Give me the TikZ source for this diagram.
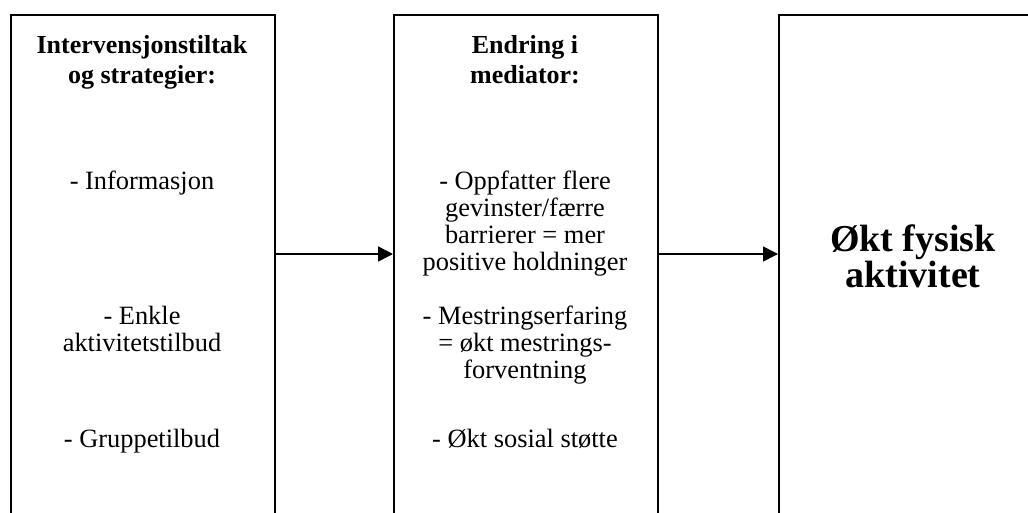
\documentclass[tikz,border=0pt]{standalone}
\usepackage{fontspec}
\setmainfont{Liberation Serif}
\usetikzlibrary{arrows.meta}
\begin{document}
\begin{tikzpicture}[x=1pt,y=-1pt,
  box/.style={draw=black,line width=1.5pt,minimum width=264pt,minimum height=560pt,inner sep=0pt,anchor=north west},
  bigbox/.style={box,line width=2.4pt,minimum width=270pt},
  head/.style={font=\fontsize{26}{30}\selectfont\bfseries,align=center,anchor=base,inner sep=0pt},
  body/.style={font=\fontsize{26.4}{27}\selectfont,align=center,anchor=base,inner sep=0pt},
  big/.style={font=\fontsize{38}{30}\selectfont\bfseries,align=center,anchor=base,inner sep=0pt},
  link/.style={line width=1.5pt,-{Triangle[length=15pt,width=15pt]}}]
\clip (0,0) rectangle (1028,512);
\fill[white] (0,0) rectangle (1028,512);
\node[box] (a) at (10,14) {};
\node[box] (b) at (393,14) {};
\node[bigbox] (c) at (778,14) {};
\node[head] (ta) at (142,83) {Intervensjonstiltak\\og strategier:};
\node[head] (tb) at (525,83) {Endring i\\mediator:};
\node[body] (a1) at (142,189) {- Informasjon};
\node[body] (a2) at (142,351) {- Enkle\\aktivitetstilbud};
\node[body] (a3) at (142,447) {- Gruppetilbud};
\node[body] (b1) at (525,270) {- Oppfatter flere\\gevinster/færre\\barrierer = mer\\positive holdninger};
\node[body] (b2) at (525,378) {- Mestringserfaring\\= økt mestrings-\\forventning};
\node[body] (b3) at (525,447) {- Økt sosial støtte};
\node[big] (tc) at (913,287) {Økt fysisk\\aktivitet};
\coordinate (y) at (0,254);
\draw[link] (a.east |- y) -- (b.west |- y);
\draw[link] (b.east |- y) -- (c.west |- y);
\end{tikzpicture}
\end{document}
